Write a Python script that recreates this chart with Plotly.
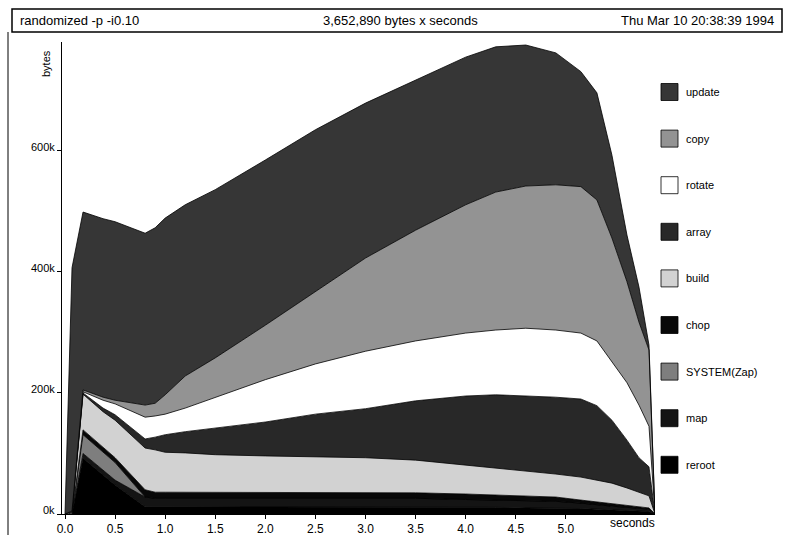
import plotly.graph_objects as go

# sample times (seconds)
times = [0.0, 0.07, 0.18, 0.38, 0.5, 0.8, 0.9, 1.0, 1.2, 1.5, 2.0, 2.5, 3.0,
         3.5, 4.0, 4.3, 4.6, 4.9, 5.15, 5.31, 5.46, 5.61, 5.73, 5.83, 5.89]

# heap residency per cost centre, in kilobytes (bottom of the stack first)
reroot = [0, 0, 92, 64, 48, 12, 12, 12, 12, 12, 12, 12, 12,
          12, 11, 11, 10, 10, 9, 8, 7, 6, 5, 4, 0]
map_cc = [0, 0, 8, 8, 8, 16, 14, 14, 14, 14, 14, 14, 14,
          14, 13, 12, 12, 11, 9, 7, 6, 5, 5, 4, 0]
system_zap = [0, 0, 31, 31, 29, 0, 0, 0, 0, 0, 0, 0, 0,
              0, 0, 0, 0, 0, 0, 0, 0, 0, 0, 0, 0]
chop = [0, 0, 8, 8, 8, 12, 10, 10, 10, 10, 10, 10, 10,
        9, 9, 8, 8, 7, 5, 5, 4, 4, 3, 2, 0]
build = [0, 2, 59, 58, 62, 69, 70, 66, 65, 62, 60, 58, 57,
         54, 48, 45, 41, 38, 38, 36, 34, 28, 23, 20, 0]
array = [0, 1, 2, 6, 9, 15, 21, 29, 35, 44, 56, 71, 81,
         98, 114, 121, 124, 127, 129, 123, 104, 79, 57, 48, 0]
rotate = [0, 1, 2, 13, 18, 36, 35, 34, 39, 51, 70, 83, 95,
          99, 104, 107, 112, 111, 109, 107, 96, 95, 87, 67, 0]
copy = [0, 1, 3, 5, 6, 20, 21, 32, 53, 65, 90, 119, 154,
        183, 212, 228, 235, 240, 242, 233, 205, 167, 137, 126, 0]
update = [0, 402, 294, 295, 295, 284, 290, 292, 283, 278, 273, 268, 256,
          248, 244, 240, 233, 218, 190, 177, 137, 77, 58, 8, 0]

bands = [
    ("reroot", reroot, "#000000"),
    ("map", map_cc, "#141414"),
    ("SYSTEM(Zap)", system_zap, "#7e7e7e"),
    ("chop", chop, "#080808"),
    ("build", build, "#d2d2d2"),
    ("array", array, "#282828"),
    ("rotate", rotate, "#ffffff"),
    ("copy", copy, "#939393"),
    ("update", update, "#363636"),
]

y_ticks = [0, 200, 400, 600]
y_tick_text = ["0k", "200k", "400k", "600k"]
x_ticks = [0.0, 0.5, 1.0, 1.5, 2.0, 2.5, 3.0, 3.5, 4.0, 4.5, 5.0]
x_tick_text = ["0.0", "0.5", "1.0", "1.5", "2.0", "2.5", "3.0", "3.5", "4.0", "4.5", "5.0"]

FONT = "Liberation Sans, Arial, Helvetica, sans-serif"
W, H = 791, 535
L, R, T, B = 62, 655, 42, 514  # plot-area edges in pixels


def px(x):
    return (x - L) / (R - L)


def py(y):
    return (B - y) / (B - T)


fig = go.Figure()
for name, vals, col in bands:
    fig.add_trace(go.Scatter(
        x=times, y=[v * 1000 for v in vals], name=name,
        stackgroup="heap", mode="lines",
        line=dict(color="black", width=0.8),
        fillcolor=col, showlegend=False, hoverinfo="skip",
    ))

shapes = []
annotations = []

# header box with job name, total and date
shapes.append(dict(type="rect", xref="paper", yref="paper",
                   x0=px(12), x1=px(782), y0=py(9), y1=py(32),
                   line=dict(color="black", width=1.5), fillcolor="white"))
shapes.append(dict(type="line", xref="paper", yref="paper",
                   x0=px(8), x1=px(8), y0=py(32), y1=py(535),
                   line=dict(color="black", width=1)))
hdr_y = py(20.5)
annotations += [
    dict(text="randomized -p -i0.10", x=px(18), y=hdr_y, xanchor="left"),
    dict(text="3,652,890 bytes x seconds", x=px(400), y=hdr_y, xanchor="center"),
    dict(text="Thu Mar 10 20:38:39 1994", x=px(776), y=hdr_y, xanchor="right"),
]
for a in annotations:
    a.update(xref="paper", yref="paper", yanchor="middle", showarrow=False,
             font=dict(family=FONT, size=13, color="black"))

# y tick labels sit just above their ticks
for v, lab in zip(y_ticks, y_tick_text):
    annotations.append(dict(text=lab, xref="paper", yref="y", x=0, y=v * 1000,
                            xanchor="right", yanchor="middle", xshift=-5, yshift=4,
                            showarrow=False, font=dict(family=FONT, size=11, color="black")))

annotations.append(dict(text="bytes", xref="paper", yref="paper", x=px(46), y=py(64),
                        textangle=-90, showarrow=False, xanchor="center", yanchor="middle",
                        font=dict(family=FONT, size=11, color="black")))
annotations.append(dict(text="seconds", xref="paper", yref="paper", x=px(632), y=py(523),
                        showarrow=False, xanchor="center", yanchor="middle",
                        font=dict(family=FONT, size=12, color="black")))

# key: top of the stack listed first
key_top = 92
key_step = 46.6
for i, (name, vals, col) in enumerate(reversed(bands)):
    cy = key_top + i * key_step
    shapes.append(dict(type="rect", xref="paper", yref="paper",
                       x0=px(661), x1=px(678), y0=py(cy + 8.5), y1=py(cy - 8.5),
                       line=dict(color="black", width=0.8), fillcolor=col))
    annotations.append(dict(text=name, xref="paper", yref="paper", x=px(684), y=py(cy),
                            xanchor="left", yanchor="middle", showarrow=False,
                            font=dict(family=FONT, size=11, color="black")))

fig.update_layout(
    template="none",
    width=W, height=H,
    margin=dict(l=L, r=W - R, t=T, b=H - B, pad=0, autoexpand=False),
    paper_bgcolor="white", plot_bgcolor="white",
    font=dict(family=FONT, color="black"),
    shapes=shapes, annotations=annotations,
    xaxis=dict(range=[-0.03, 5.89], tickvals=x_ticks, ticktext=x_tick_text,
               automargin=False,
               showgrid=False, zeroline=False, showline=True, linecolor="black",
               linewidth=1, ticks="outside", ticklen=4, tickcolor="black",
               tickfont=dict(family=FONT, size=12, color="black")),
    yaxis=dict(range=[0, 780000], tickvals=[v * 1000 for v in y_ticks],
               automargin=False,
               showticklabels=False, showgrid=False, zeroline=False,
               showline=True, linecolor="black", linewidth=1,
               ticks="outside", ticklen=4, tickcolor="black"),
)

fig.write_html("out.html")
